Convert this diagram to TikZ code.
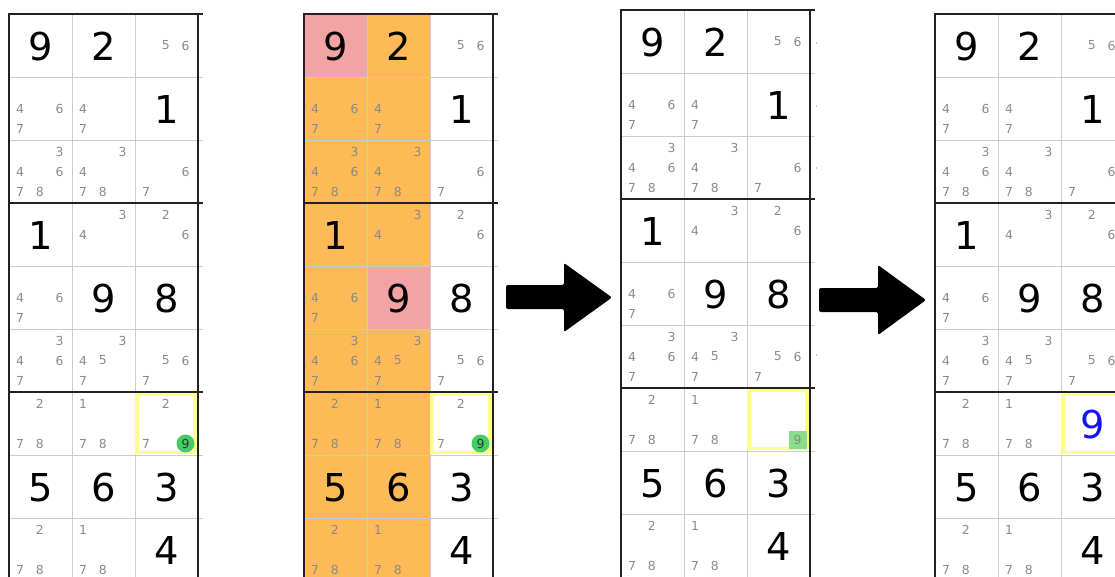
\documentclass[tikz,border=0pt]{standalone}
\usepackage{fontspec}
\setmainfont{DejaVu Sans}
\definecolor{gridthin}{HTML}{CCCCCC}
\definecolor{gridthick}{HTML}{222222}
\definecolor{candgrey}{HTML}{8A8A8A}
\definecolor{hlorange}{HTML}{FDBA57}
\definecolor{hlpink}{HTML}{F3A3A3}
\definecolor{selyellow}{HTML}{FFFF8C}
\definecolor{greendot}{HTML}{44CC66}
\definecolor{greensq}{HTML}{8ADE8A}
\definecolor{bluedigit}{HTML}{1414EE}
\tikzset{
  cand/.style={font=\fontsize{9.3pt}{10pt}\selectfont, text=candgrey, inner sep=0pt, anchor=center},
  big/.style={font=\fontsize{28.8pt}{30pt}\selectfont, text=black, inner sep=0pt, anchor=center},
  thinline/.style={draw=gridthin, line width=0.75pt},
  thickline/.style={draw=gridthick, line width=1.6pt},
  selframe/.style={draw=selyellow, line width=2.6pt},
  bigarrow/.style={fill=black, rounded corners=1.5pt},
}
% candidates: #1 col, #2 row, #3 list of digits
\newcommand\sdkcands[3]{%
  \foreach \d in {#3}{%
    \pgfmathtruncatemacro\cc{mod(\d-1,3)}%
    \pgfmathtruncatemacro\rr{floor((\d-1)/3)}%
    \node[cand] at ({63*#1+11+19.75*\cc},{63*#2+11.5+20*\rr}) {\d};
  }}
\newcommand\sdkgiven[3]{\node[big] at ({63*#1+31.5},{63*#2+32.5}) {#3};}
\newcommand\sdkgrid{%
  \foreach \r in {1,2,4,5,7,8}{\draw[thinline] (0,63*\r) -- (194,63*\r);}
  \foreach \c in {1,2}{\draw[thinline] (63*\c,0) -- (63*\c,620);}
  \draw[thickline] (0,620) -- (0,0) -- (194,0);
  \draw[thickline] (189,0) -- (189,620);
  \draw[thickline] (0,189) -- (194,189);
  \draw[thickline] (0,378) -- (194,378);
}
\newcommand\sdkbody{%
  \sdkgiven{0}{0}{9}\sdkgiven{1}{0}{2}\sdkcands{2}{0}{5,6}
  \sdkcands{0}{1}{4,6,7}\sdkcands{1}{1}{4,7}\sdkgiven{2}{1}{1}
  \sdkcands{0}{2}{3,4,6,7,8}\sdkcands{1}{2}{3,4,7,8}\sdkcands{2}{2}{6,7}
  \sdkgiven{0}{3}{1}\sdkcands{1}{3}{3,4}\sdkcands{2}{3}{2,6}
  \sdkcands{0}{4}{4,6,7}\sdkgiven{1}{4}{9}\sdkgiven{2}{4}{8}
  \sdkcands{0}{5}{3,4,6,7}\sdkcands{1}{5}{3,4,5,7}\sdkcands{2}{5}{5,6,7}
  \sdkcands{0}{6}{2,7,8}\sdkcands{1}{6}{1,7,8}
  \sdkgiven{0}{7}{5}\sdkgiven{1}{7}{6}\sdkgiven{2}{7}{3}
  \sdkcands{0}{8}{2,7,8}\sdkcands{1}{8}{1,7,8}\sdkgiven{2}{8}{4}
}
\newcommand\sdkselframe{\draw[selframe] (128,380.5) rectangle (186,438.5);}
\begin{document}
\begin{tikzpicture}[x=0.75pt,y=-0.75pt]
\useasboundingbox (0,0) rectangle (1115,576);
\clip (0,0) rectangle (1115,576);

% ---------- panel 1 ----------
\begin{scope}[shift={(9,14)}]
  \sdkgrid
  \sdkselframe
  \fill[greendot] (176.5,429.5) circle (9);
  \sdkbody
  \sdkcands{2}{6}{2,7}
  \node[cand, text=black!80] (p1nine) at (176.5,429.5) {9};
\end{scope}

% ---------- panel 2 ----------
\begin{scope}[shift={(304,14)}]
  \fill[hlorange] (0,63) rectangle (63,620);
  \fill[hlorange] (63,0) rectangle (126,620);
  \fill[hlpink] (0,0) rectangle (63,63);
  \fill[hlpink] (63,252) rectangle (126,315);
  \sdkgrid
  \sdkselframe
  \fill[greendot] (176.5,429.5) circle (9);
  \sdkbody
  \sdkcands{2}{6}{2,7}
  \node[cand, text=black!80] (p2nine) at (176.5,429.5) {9};
\end{scope}

% ---------- panel 3 ----------
\begin{scope}[shift={(621,10)}]
  \sdkgrid
  \sdkselframe
  \fill[greensq] (167.5,421) rectangle (185.5,438.5);
  \sdkbody
  \node[cand] (p3nine) at (176.5,429.5) {9};
  \foreach \yy in {33,96,158,345}{\fill[candgrey!60] (195.5,\yy) circle (0.8);}
\end{scope}

% ---------- panel 4 ----------
\begin{scope}[shift={(935,14)}]
  \sdkgrid
  \sdkselframe
  \sdkbody
  \node[big, text=bluedigit] (p4nine) at (157.5,410.5) {9};
\end{scope}

% ---------- arrows ----------
\fill[bigarrow] (506,285) -- (564,285) -- (564,263) -- (612,297.5) -- (564,332) -- (564,309) -- (506,309) -- cycle;
\fill[bigarrow] (819,288) -- (878,288) -- (878,265) -- (926,300) -- (878,335) -- (878,312) -- (819,312) -- cycle;
\end{tikzpicture}
\end{document}
